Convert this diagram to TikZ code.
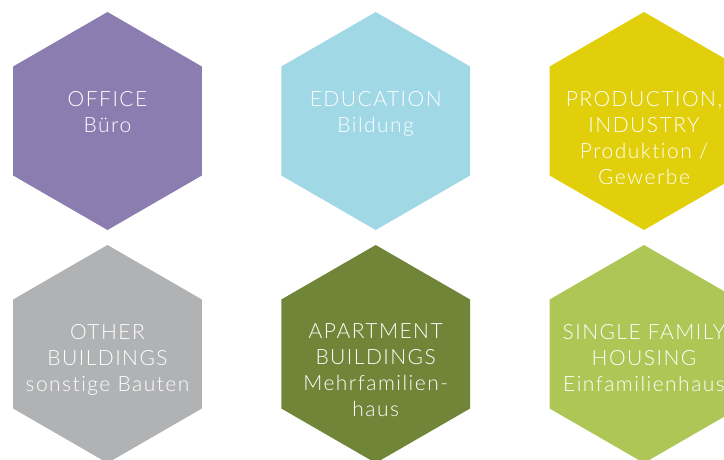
\documentclass[tikz,border=0pt]{standalone}
\usepackage{fontspec}
\IfFontExistsTF{Lato Light}{\setmainfont{Lato Light}[LetterSpace=7,Ligatures=NoCommon]}{\setmainfont{Lato}[LetterSpace=7,Ligatures=NoCommon]}
\usepackage{xcolor}
\usepackage{tikz}
\usetikzlibrary{positioning,shapes.geometric}

\definecolor{officecol}{HTML}{8C7DB0}
\definecolor{educol}{HTML}{A0D8E6}
\definecolor{prodcol}{HTML}{E0CF0A}
\definecolor{othercol}{HTML}{B1B2B4}
\definecolor{aptcol}{HTML}{708538}
\definecolor{singlecol}{HTML}{AEC655}

\begin{document}
\begin{tikzpicture}[x=1pt,y=1pt,
    hexa/.style={regular polygon, regular polygon sides=6, shape border rotate=30,
      minimum size=218pt, inner sep=0pt, outer sep=0pt, fill=#1},
    lbl/.style={text=white, align=center, inner sep=0pt, outer sep=0pt,
      font=\fontsize{21}{26}\selectfont}]
      \useasboundingbox (0,0) rectangle (724,459);
      \foreach \x/\y/\n/\c in {107.5/338/office/officecol, 375.7/338/edu/educol,
          644/338/prod/prodcol, 107.5/105/other/othercol,
          375.7/105/apt/aptcol, 644/105/single/singlecol}
        \node[hexa=\c] (\n) at (\x,\y) {};
      \node[lbl, below=79pt of office.north] (office-txt) {OFFICE\\Büro};
      \node[lbl, below=79pt of edu.north] (edu-txt) {EDUCATION\\Bildung};
      \node[lbl, below=79pt of prod.north] (prod-txt) {PRODUCTION,\\INDUSTRY\\Produktion /\\Gewerbe};
      \node[lbl, below=79pt of other.north] (other-txt) {OTHER\\BUILDINGS\\sonstige Bauten};
      \node[lbl, below=79pt of apt.north] (apt-txt) {APARTMENT\\BUILDINGS\\Mehrfamilien-\\haus};
      \node[lbl, below=79pt of single.north] (single-txt) {SINGLE FAMILY\\HOUSING\\Einfamilienhaus};
    \end{tikzpicture}
\end{document}
